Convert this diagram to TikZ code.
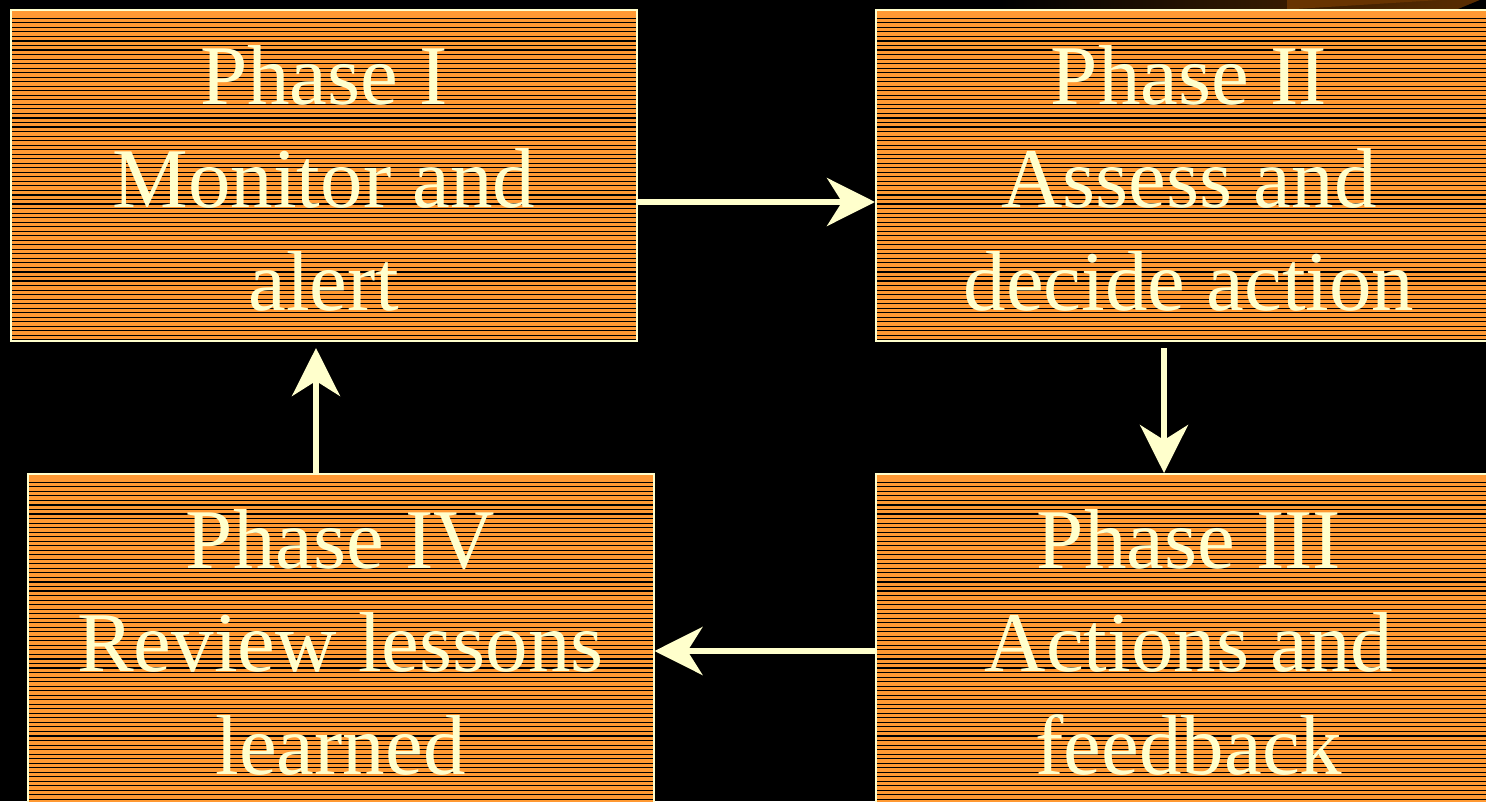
\documentclass[tikz,border=0pt]{standalone}
\usepackage{fontspec}
\setmainfont{Liberation Serif}
\usetikzlibrary{arrows.meta}
\definecolor{cream}{RGB}{255,255,204}
\definecolor{boxorange}{RGB}{255,153,51}
\definecolor{darkbrown}{RGB}{92,46,0}
\definecolor{lightbrown}{RGB}{104,52,0}
\tikzset{
  phasebox/.style={draw=cream, line width=2pt, fill=boxorange,
    minimum width=626pt, minimum height=331pt, inner sep=0pt,
    align=center, text=cream, font=\fontsize{85}{103}\selectfont,
    path picture={
      \foreach \i in {0,...,75}
        \draw[black, line width=1.1pt]
          ([yshift={-8.3pt-\i*4.53pt}]path picture bounding box.north west) -- ++(660pt,0pt);
    }},
  flow/.style={draw=cream, line width=5.5pt,
    -{Stealth[length=48pt, width=48pt, inset=15pt, fill=cream]}}
}
\begin{document}
\begin{tikzpicture}[x=1pt, y=1pt]
\useasboundingbox (0,0) rectangle (1486,-801);
\fill[black] (0,0) rectangle (1486,-801);
% top-right background decoration
\shade[left color=black, right color=darkbrown] (1000,0) rectangle (1486,-9.5);
\fill[lightbrown] (1287,0) -- (1287,-9.5) -- (1440,0) -- cycle;
\fill[black] (1457,-9.5) -- (1486,-9.5) -- (1486,0) -- (1480,0) -- cycle;

\node[phasebox] (n1) at (324,-175.5)
  {\rule{0pt}{66pt}Phase I\\Monitor and\\alert\rule[-2pt]{0pt}{2pt}};
\node[phasebox] (n2) at (1189,-175.5)
  {\rule{0pt}{66pt}Phase II\\Assess and\\decide action\rule[-2pt]{0pt}{2pt}};
\node[phasebox] (n3) at (1189,-639.5)
  {\rule{0pt}{66pt}Phase III\\Actions and\\feedback\rule[-2pt]{0pt}{2pt}};
\node[phasebox] (n4) at (340.5,-639.5)
  {\rule{0pt}{66pt}Phase IV\\Review lessons\\learned\rule[-2pt]{0pt}{2pt}};

\draw[flow] ([yshift=-26.5pt]n1.east) -- ([yshift=-26.5pt]n2.west);
\draw[flow] ([xshift=-25pt,yshift=-6pt]n2.south) -- ([xshift=-25pt]n3.north);
\draw[flow] ([yshift=-11.5pt]n3.west) -- ([yshift=-11.5pt]n4.east);
\draw[flow] ([xshift=-24.5pt]n4.north) -- ([xshift=-8pt,yshift=-6pt]n1.south);
\end{tikzpicture}
\end{document}
